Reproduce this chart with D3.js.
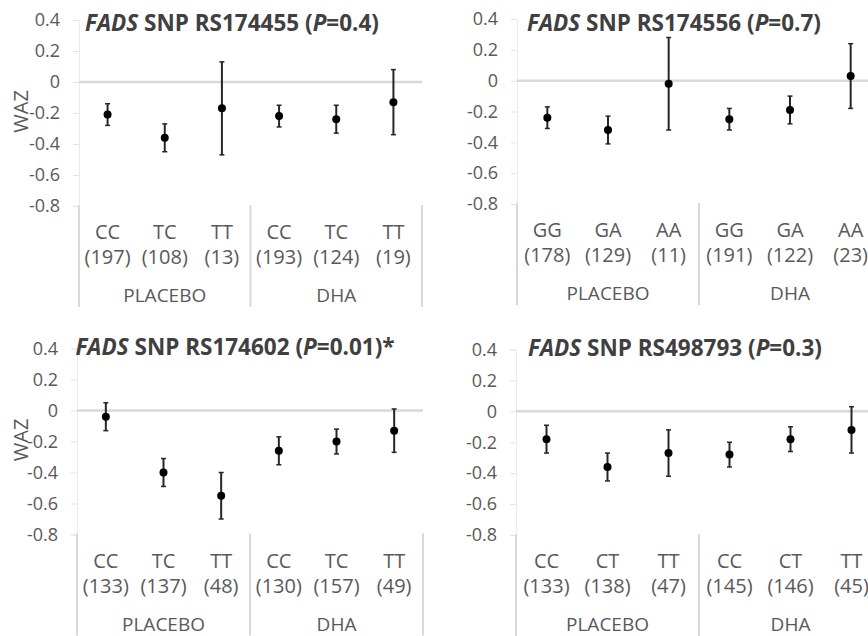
<!DOCTYPE html>
<html>
<head>
<meta charset="utf-8">
<script src="https://cdn.jsdelivr.net/npm/d3@7"></script>
<style>
  body { margin: 0; background: #fff; }
  svg { display: block; font-family: "Open Sans", sans-serif; }
</style>
</head>
<body>
<svg width="868" height="636"></svg>
<script>
// data
const groups = ["PLACEBO", "DHA"];
const snps = ["RS174455", "RS174556", "RS174602", "RS498793"];
const pvals = ["0.4", "0.7", "0.01", "0.3"];
const stars = ["", "", "*", ""];
const genotypes = [
  ["CC", "TC", "TT"],
  ["GG", "GA", "AA"],
  ["CC", "TC", "TT"],
  ["CC", "CT", "TT"]
];
const counts = [
  [197, 108, 13, 193, 124, 19],
  [178, 129, 11, 191, 122, 23],
  [133, 137, 48, 130, 157, 49],
  [133, 138, 47, 145, 146, 45]
];
const means = [
  [-0.21, -0.36, -0.17, -0.22, -0.24, -0.13],
  [-0.24, -0.32, -0.02, -0.25, -0.19, 0.03],
  [-0.04, -0.40, -0.55, -0.26, -0.20, -0.13],
  [-0.18, -0.36, -0.27, -0.28, -0.18, -0.12]
];
const errs = [
  [0.07, 0.09, 0.30, 0.07, 0.09, 0.21],
  [0.07, 0.09, 0.30, 0.07, 0.09, 0.21],
  [0.09, 0.09, 0.15, 0.09, 0.08, 0.14],
  [0.09, 0.09, 0.15, 0.08, 0.08, 0.15]
];
const yTicks = [0.4, 0.2, 0, -0.2, -0.4, -0.6, -0.8];

// panel placement
const layout = [
  {x0: 79,  x1: 422, top: 20,  bot: 206, tx: 232, ty: 30.5, waz: true},
  {x0: 517, x1: 881, top: 19,  bot: 204, tx: 674, ty: 30.5, waz: false},
  {x0: 77,  x1: 423, top: 348.5, bot: 534.5, tx: 235, ty: 355, waz: true},
  {x0: 516, x1: 882, top: 349.5, bot: 535, tx: 675, ty: 356, waz: false}
];

const grey = "#d9d9d9";
const textCol = "#595959";
const svg = d3.select("svg");

layout.forEach((L, p) => {
  const g = svg.append("g");

  const x = d3.scaleBand()
      .domain(d3.range(6))
      .range([L.x0, L.x1]);
  const y = d3.scaleLinear()
      .domain([-0.8, 0.4])
      .range([L.bot, L.top]);

  // y axis
  const yAxis = g.append("g")
      .attr("transform", `translate(${L.x0},0)`)
      .call(d3.axisLeft(y)
          .tickValues(yTicks)
          .tickSize(6)
          .tickPadding(13)
          .tickFormat(d => d === 0 ? "0" : d.toFixed(1)));
  yAxis.select(".domain").attr("stroke", "#ececec").attr("stroke-width", 1);
  yAxis.selectAll(".tick line").attr("stroke", "#e3e3e3");
  yAxis.selectAll(".tick text")
      .attr("fill", textCol)
      .style("font-size", "18px")
      .style("font-family", "Open Sans");

  // zero line (category axis)
  g.append("line")
      .attr("x1", L.x0).attr("x2", L.x1)
      .attr("y1", y(0)).attr("y2", y(0))
      .attr("stroke", grey)
      .attr("stroke-width", 2.5);

  // group separators below the plot
  [0, 3, 6].forEach(i => {
    const sx = i === 6 ? L.x1 : x(i);
    g.append("line")
        .attr("x1", sx).attr("x2", sx)
        .attr("y1", y(-0.8) - 1).attr("y2", y(-0.8) + 101)
        .attr("stroke", grey)
        .attr("stroke-width", 2);
  });

  // category labels
  const cats = d3.range(6);
  g.selectAll(".geno")
      .data(cats)
      .enter().append("text")
      .attr("x", i => x(i) + x.bandwidth() / 2)
      .attr("y", y(-0.8) + 33)
      .attr("text-anchor", "middle")
      .attr("fill", textCol)
      .style("font-size", "20px")
      .text(i => genotypes[p][i % 3]);
  g.selectAll(".num")
      .data(cats)
      .enter().append("text")
      .attr("x", i => x(i) + x.bandwidth() / 2)
      .attr("y", y(-0.8) + 58)
      .attr("text-anchor", "middle")
      .attr("fill", textCol)
      .style("font-size", "20px")
      .text(i => "(" + counts[p][i] + ")");
  g.selectAll(".grp")
      .data(groups)
      .enter().append("text")
      .attr("x", (d, k) => (x(k * 3) + (k === 1 ? L.x1 : x(3))) / 2)
      .attr("y", y(-0.8) + 96)
      .attr("text-anchor", "middle")
      .attr("fill", textCol)
      .style("font-size", "19px")
      .text(d => d);

  // error bars
  const pts = cats.map(i => ({i: i, m: means[p][i], e: errs[p][i]}));
  const cx = d => x(d.i) + x.bandwidth() / 2;
  g.selectAll(".bar")
      .data(pts)
      .enter().append("line")
      .attr("x1", cx).attr("x2", cx)
      .attr("y1", d => y(d.m + d.e))
      .attr("y2", d => y(d.m - d.e))
      .attr("stroke", "#262626")
      .attr("stroke-width", 2);
  ["top", "bot"].forEach(k => {
    g.selectAll(".cap" + k)
        .data(pts)
        .enter().append("line")
        .attr("x1", d => cx(d) - 2.5).attr("x2", d => cx(d) + 2.5)
        .attr("y1", d => y(k === "top" ? d.m + d.e : d.m - d.e))
        .attr("y2", d => y(k === "top" ? d.m + d.e : d.m - d.e))
        .attr("stroke", "#262626")
        .attr("stroke-width", 1.5);
  });
  g.selectAll(".pt")
      .data(pts)
      .enter().append("circle")
      .attr("cx", cx)
      .attr("cy", d => y(d.m))
      .attr("r", 4)
      .attr("fill", "#000");

  // title
  const t = g.append("text")
      .attr("x", L.tx)
      .attr("y", L.ty)
      .attr("text-anchor", "middle")
      .attr("fill", "#404040")
      .style("font-size", "22.5px")
      .style("font-weight", "bold");
  t.append("tspan").style("font-style", "italic").text("FADS");
  t.append("tspan").text(" SNP " + snps[p] + " (");
  t.append("tspan").style("font-style", "italic").text("P");
  t.append("tspan").text("=" + pvals[p] + ")" + stars[p]);

  // y label
  if (L.waz) {
    g.append("text")
        .attr("transform", `translate(28,${y(-0.19)}) rotate(-90)`)
        .attr("text-anchor", "middle")
        .attr("fill", textCol)
        .style("font-size", "20px")
        .text("WAZ");
  }
});
</script>
</body>
</html>
